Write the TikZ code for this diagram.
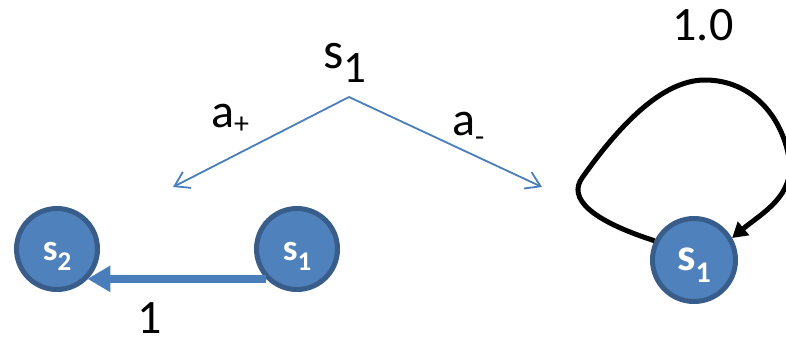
\documentclass[tikz,border=0pt]{standalone}
\usepackage{fontspec}
\setmainfont{Carlito}
\usetikzlibrary{arrows.meta}
\definecolor{accent}{HTML}{4F81BD}
\definecolor{accentdark}{HTML}{385D8A}
\definecolor{linkblue}{HTML}{4A7EBB}
\newcommand{\sublow}[3]{\raisebox{-#1pt}{\fontsize{#2}{#2}\selectfont #3}}
\begin{document}
\begin{tikzpicture}[x=1pt,y=-1pt,
  state/.style={circle, fill=accent, draw=accentdark, line width=5pt,
    minimum size=81pt, inner sep=0pt, text=white,
    font=\fontsize{37}{37}\selectfont\bfseries, text height=26pt, text depth=4pt},
  bigstate/.style={state, minimum size=83pt,
    font=\fontsize{46}{46}\selectfont\bfseries, text height=24pt, text depth=4pt},
  choice/.style={draw=linkblue, line width=1.8pt, -{Straight Barb[length=14pt,width=18pt]}},
  trans/.style={draw=linkblue, line width=8pt, -{Triangle[length=23pt,width=25pt]}},
  selfloop/.style={draw=black, line width=5pt, line join=round, -{Triangle[length=15pt,width=17pt]}},
  txt/.style={font=\fontsize{48}{48}\selectfont, inner sep=0pt},
]
\useasboundingbox (0,0) rectangle (786,337);

% nodes
\node[state] (s2) at (57,249) {s\sublow{10}{27}{2}};
\node[state] (m) at (297,249) {s\sublow{10}{27}{1}};
\node[bigstate] (r) at (694,260) {s\sublow{12}{30}{1}};

% top state label and action branches
\node[txt, anchor=base west, font=\fontsize{52}{52}\selectfont] (top) at (323,68) {s\sublow{14}{45}{1}};
\coordinate (apex) at (349,97);
\coordinate (lend) at (173,187);
\coordinate (rend) at (542,187);
\draw[choice] (apex) -- (lend);
\draw[choice] (apex) -- (rend);
\node[txt, anchor=base west] (ap) at (211,127) {a\sublow{6}{30}{+}};
\node[txt, anchor=base west] (am) at (452,135) {a\sublow{11}{30}{-}};

% transition s1 -> s2
\draw[trans] (m.224) -- (m.224 -| s2.-45);
\node[txt, anchor=base] (p1) at (150,333) {1};

% self loop
\coordinate (c1) at (582,178);
\coordinate (lp2) at (705,80);
\coordinate (lp3) at (789,158);
\draw[selfloop] (r.154) .. controls (590,220) and (568,198) .. (c1)
  .. controls (630,110) and (670,80) .. (lp2)
  to[out=0,in=100] (lp3)
  to[out=-80,in=40] (r.30);
\node[txt, anchor=base] (p2) at (703,41) {1.0};
\end{tikzpicture}
\end{document}
